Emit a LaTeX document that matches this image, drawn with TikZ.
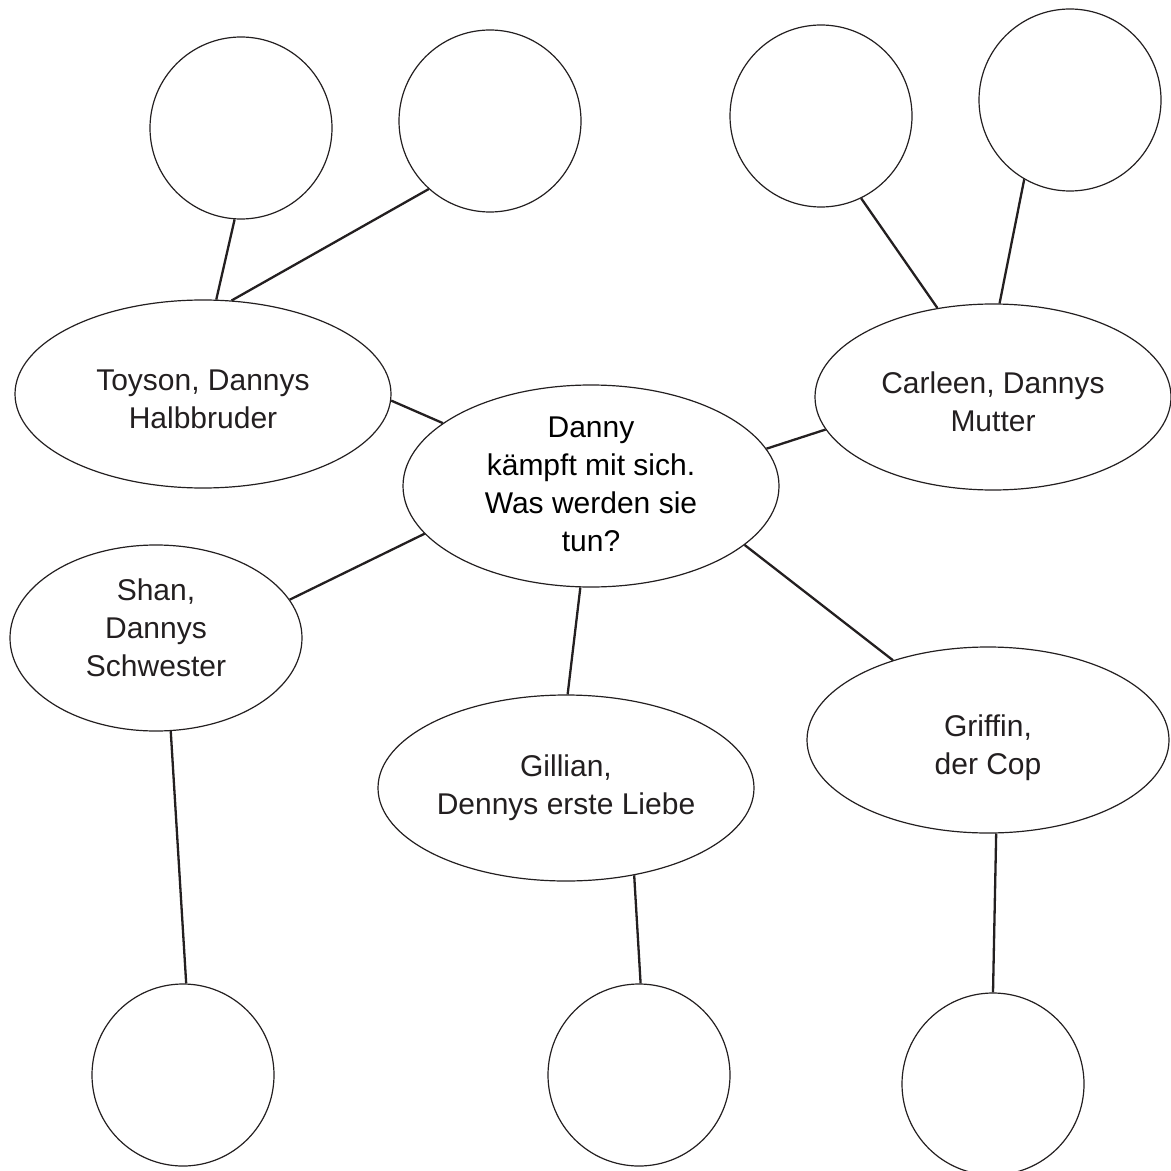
\documentclass[tikz,border=0pt]{standalone}
\usepackage{fontspec}
\setmainfont{Liberation Sans}
\usetikzlibrary{shapes.geometric}
\definecolor{ink}{HTML}{231F20}
\newcommand{\upstrut}[1]{\rule{0pt}{#1}}
\newcommand{\downstrut}[1]{\rule[-#1]{0pt}{#1}}
\tikzset{
  bubble/.style={ellipse, draw=ink, line width=0.6pt, inner sep=0pt, align=center,
    text=ink, font=\fontsize{15pt}{19pt}\selectfont},
  blank/.style={circle, draw=ink, line width=0.6pt, inner sep=0pt, minimum size=91pt},
  link/.style={draw=ink, line width=1.15pt}
}
\begin{document}
\begin{tikzpicture}[x=0.5pt,y=-0.5pt]
\useasboundingbox (0,0) rectangle (1171,1171);
% blank circles
\node[blank] (c1) at (241,128) {};
\node[blank] (c2) at (490,121) {};
\node[blank] (c3) at (821,116) {};
\node[blank] (c4) at (1070,100) {};
\node[blank] (c5) at (183,1075) {};
\node[blank] (c6) at (639,1075) {};
\node[blank] (c7) at (993,1084) {};
% ellipses
\node[bubble, minimum width=188pt, minimum height=94pt] (toy) at (203,394) {\upstrut{15.2pt}Toyson, Dannys\\Halbbruder};
\node[bubble, minimum width=178pt, minimum height=93pt] (car) at (993,397) {\upstrut{15.3pt}Carleen, Dannys\\Mutter};
\node[bubble, minimum width=188pt, minimum height=101pt, text=black] (dan) at (591,486) {Danny\\kämpft mit sich.\\Was werden sie\\tun?\downstrut{2pt}};
\node[bubble, minimum width=146pt, minimum height=93pt] (sha) at (156,638) {Shan,\\Dannys\\Schwester\downstrut{10pt}};
\node[bubble, minimum width=188pt, minimum height=93pt] (gil) at (566,788) {Gillian,\\Dennys erste Liebe};
\node[bubble, minimum width=181pt, minimum height=93pt] (gri) at (988,740) {\upstrut{18.9pt}Griffin,\\der Cop};
% connectors
\draw[link] (toy.82) -- (c1.266);
\draw[link] (toy.73) -- (c2.228);
\draw[link] (toy.358) -- (dan.157);
\draw[link] (car.122) -- (c3.296);
\draw[link] (car.86) -- (c4.240);
\draw[link] (dan.12.5) -- (car.191);
\draw[link] (dan.196) -- (sha.16);
\draw[link] (dan.264) -- (gil.89.4);
\draw[link] (dan.339.4) -- (gri.140.5);
\draw[link] (sha.279) -- (c5.88);
\draw[link] (gil.308) -- (c6.89.4);
\draw[link] (gri.275.6) -- (c7.90);
\end{tikzpicture}
\end{document}
